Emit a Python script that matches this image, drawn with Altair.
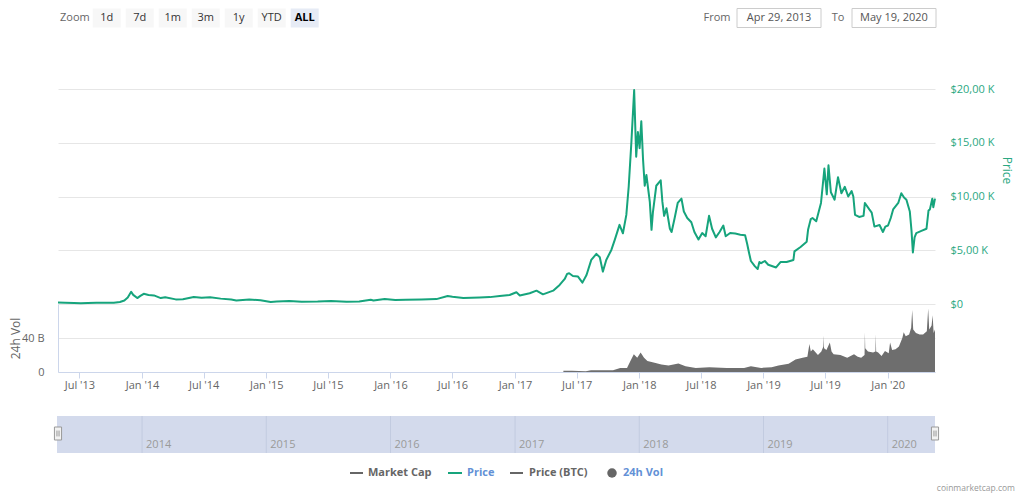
import altair as alt
import pandas as pd

# ------------------------------------------------------------------ data
price_dates = [
    "2013-04-29", "2013-05-20", "2013-06-15", "2013-07-05", "2013-07-25", "2013-08-20", "2013-09-20", "2013-10-10",
    "2013-10-28", "2013-11-10", "2013-11-20", "2013-11-30", "2013-12-06", "2013-12-18", "2013-12-27",
    "2014-01-06", "2014-01-20", "2014-02-05", "2014-02-25", "2014-03-10", "2014-04-10", "2014-05-01", "2014-06-02",
    "2014-06-25", "2014-07-20", "2014-08-20", "2014-09-20", "2014-10-05", "2014-11-12", "2014-12-15",
    "2015-01-14", "2015-02-01", "2015-03-10", "2015-04-15", "2015-06-01", "2015-07-10", "2015-08-25", "2015-10-01",
    "2015-11-04", "2015-11-12", "2015-12-15",
    "2016-01-15", "2016-02-15", "2016-04-01", "2016-05-15", "2016-06-17", "2016-07-01", "2016-08-02", "2016-09-19",
    "2016-10-19", "2016-11-17", "2016-12-16",
    "2017-01-05", "2017-01-15", "2017-02-13", "2017-03-05", "2017-03-24", "2017-04-23", "2017-05-12", "2017-05-27",
    "2017-06-03", "2017-06-09", "2017-06-20", "2017-07-05", "2017-07-18", "2017-07-30", "2017-08-13", "2017-08-28",
    "2017-09-07", "2017-09-16", "2017-09-26", "2017-10-11", "2017-10-21", "2017-11-04", "2017-11-14", "2017-11-24",
    "2017-12-01", "2017-12-09", "2017-12-17", "2017-12-23", "2017-12-28",
    "2018-01-02", "2018-01-07", "2018-01-12", "2018-01-17", "2018-01-22", "2018-01-26", "2018-02-01", "2018-02-06",
    "2018-02-10", "2018-02-20", "2018-03-05", "2018-03-10", "2018-03-15", "2018-03-22", "2018-04-01", "2018-04-06",
    "2018-04-15", "2018-04-24", "2018-05-05", "2018-05-12", "2018-05-22", "2018-06-03", "2018-06-12", "2018-06-24",
    "2018-07-05", "2018-07-15", "2018-07-25", "2018-08-03", "2018-08-14", "2018-08-25", "2018-09-05", "2018-09-12",
    "2018-09-25", "2018-10-10", "2018-10-25", "2018-11-08", "2018-11-14", "2018-11-20", "2018-11-25", "2018-12-07",
    "2018-12-15", "2018-12-20", "2018-12-25",
    "2019-01-05", "2019-01-15", "2019-02-07", "2019-02-20", "2019-03-10", "2019-03-30", "2019-04-02", "2019-04-20",
    "2019-05-08", "2019-05-12", "2019-05-20", "2019-05-25", "2019-06-05", "2019-06-19", "2019-06-24", "2019-06-29",
    "2019-07-06", "2019-07-11", "2019-07-18", "2019-07-29", "2019-08-08", "2019-08-18", "2019-08-28", "2019-09-07",
    "2019-09-17", "2019-09-22", "2019-09-27", "2019-10-09", "2019-10-22", "2019-10-26", "2019-11-08", "2019-11-15",
    "2019-11-23", "2019-12-08", "2019-12-18", "2019-12-25",
    "2020-01-02", "2020-01-10", "2020-01-17", "2020-02-01", "2020-02-10", "2020-02-18", "2020-02-25", "2020-03-06",
    "2020-03-11", "2020-03-15", "2020-03-20", "2020-03-25", "2020-04-09", "2020-04-24", "2020-04-30", "2020-05-04",
    "2020-05-11", "2020-05-14", "2020-05-19",
]
price_usd = [
    135, 122, 100, 75, 95, 115, 125, 125,
    190, 330, 600, 1130, 850, 550, 750,
    950, 840, 800, 550, 630, 430, 450, 660,
    590, 620, 500, 410, 330, 420, 340,
    180, 230, 290, 220, 230, 290, 215, 240,
    400, 330, 455,
    380, 400, 420, 455, 750, 680, 560, 610,
    640, 745, 840,
    1090, 800, 1000, 1240, 900, 1240, 1770, 2330,
    2800, 2860, 2610, 2550, 1990, 2700, 4100, 4660,
    4350, 3010, 4100, 5030, 5960, 7360, 6580, 8290,
    10930, 15130, 19900, 13700, 16000,
    14500, 17000, 13500, 11000, 12000, 11000, 9500, 6900,
    8500, 11000, 11500, 9500, 8200, 8900, 7000, 6700,
    8000, 9400, 9800, 8600, 8000, 7600, 6700, 6000,
    6600, 6300, 8200, 7000, 6200, 6700, 7300, 6300,
    6600, 6550, 6450, 6400, 5600, 4700, 4000, 3500,
    3250, 3900, 3800,
    4000, 3650, 3400, 3900, 3900, 4100, 4900, 5300,
    5800, 6900, 7900, 8000, 7700, 9400, 11000, 12600,
    10200, 12900, 10400, 9700, 11800, 10300, 10900, 10000,
    10500, 10000, 8300, 8100, 8200, 9400, 8800, 8500,
    7200, 7350, 6700, 7200,
    7300, 8000, 8800, 9400, 10300, 9900, 9700, 8600,
    6800, 4800, 6200, 6600, 6800, 7000, 8700, 8800,
    9800, 9000, 9800,
]

vol_dates = [
    "2017-05-23", "2017-06-17", "2017-07-28", "2017-08-12", "2017-09-26", "2017-10-16", "2017-11-06", "2017-11-26",
    "2017-12-06", "2017-12-16", "2017-12-26", "2018-01-05", "2018-01-15", "2018-01-25", "2018-02-15", "2018-03-07",
    "2018-03-28", "2018-04-26", "2018-05-17", "2018-06-16", "2018-07-26", "2018-09-15", "2018-11-05", "2018-11-25",
    "2018-12-25", "2019-01-25", "2019-02-14", "2019-03-16", "2019-04-05", "2019-04-26", "2019-05-10", "2019-05-16",
    "2019-05-20", "2019-05-26", "2019-06-10", "2019-06-20", "2019-06-26", "2019-06-27", "2019-06-28", "2019-07-05",
    "2019-07-15", "2019-07-20", "2019-07-26", "2019-08-15", "2019-09-04", "2019-09-24", "2019-10-05", "2019-10-15",
    "2019-10-25", "2019-10-26", "2019-10-27", "2019-11-04", "2019-11-19", "2019-11-26", "2019-11-27", "2019-11-28",
    "2019-12-04", "2019-12-14", "2019-12-24", "2020-01-04", "2020-01-08", "2020-01-14", "2020-01-24", "2020-02-03",
    "2020-02-13", "2020-02-17", "2020-02-23", "2020-03-04", "2020-03-10", "2020-03-13", "2020-03-16", "2020-03-24",
    "2020-04-04", "2020-04-14", "2020-04-25", "2020-04-29", "2020-05-02", "2020-05-09", "2020-05-12", "2020-05-15",
    "2020-05-19",
]
vol_billion = [
    1.6, 1.6, 0.8, 2.0, 2.0, 2.0, 4.8, 4.8,
    12.8, 20.8, 16.8, 22.8, 16.8, 12.8, 10.8, 8.8,
    7.6, 10.0, 6.8, 4.8, 5.6, 4.8, 4.8, 6.8,
    4.8, 5.6, 7.6, 9.6, 14.8, 16.8, 18.0, 32.8,
    24.0, 26.8, 20.0, 24.0, 30.0, 42.8, 28.0, 26.0,
    34.8, 24.0, 20.8, 20.0, 16.8, 20.8, 18.0, 16.8,
    20.0, 46.8, 28.0, 24.0, 22.8, 24.0, 44.8, 24.0,
    22.8, 18.8, 24.8, 22.0, 34.8, 26.0, 26.8, 30.0,
    40.0, 46.8, 42.0, 44.0, 52.0, 72.8, 50.0, 46.0,
    44.0, 44.0, 48.0, 74.8, 50.0, 54.8, 66.8, 46.0,
    50.0,
]

range_start = "2013-04-29"
range_end = "2020-05-19"
x_tick_dates = ["2013-07-01", "2014-01-01", "2014-07-01", "2015-01-01", "2015-07-01", "2016-01-01", "2016-07-01",
                "2017-01-01", "2017-07-01", "2018-01-01", "2018-07-01", "2019-01-01", "2019-07-01", "2020-01-01"]
nav_year_dates = ["2014-01-01", "2015-01-01", "2016-01-01", "2017-01-01", "2018-01-01", "2019-01-01", "2020-01-01"]
nav_year_labels = ["2014", "2015", "2016", "2017", "2018", "2019", "2020"]
price_ticks = [0, 5000, 10000, 15000, 20000]
vol_ticks = [0, 40]
zoom_buttons = ["1d", "7d", "1m", "3m", "1y", "YTD", "ALL"]
selected_button = "ALL"
legend_labels = ["Market Cap", "Price", "Price (BTC)", "24h Vol"]
from_text = "Apr 29, 2013"
to_text = "May 19, 2020"
credit_text = "coinmarketcap.com"

# ------------------------------------------------------------------ style / layout
FONT = "Open Sans"
GREEN = "#16a47c"
GREEN_TXT = "#2ba882"
TXT = "#666666"
AXIS_LINE = "#ccd6eb"
GRID = "#e6e6e6"
VOL = "#6e6e6e"
NAV_FILL = "#d3daec"
NAV_LINE = "#c2cbe0"
BLUE_TXT = "#6391d6"

W, H = 877, 364
PRICE_RANGE = [215, 0]
VOL_RANGE = [283, 215]
TOP_Y0, TOP_Y1, TOP_YC = -80.5, -61.5, -71


def utc(s):
    y, m, d = (int(p) for p in s.split("-"))
    return alt.DateTime(year=y, month=m, date=d, utc=True)


x_scale = alt.Scale(type="utc", domain=[utc(range_start), utc(range_end)])
one = pd.DataFrame({"k": [0]})

price_df = pd.DataFrame({"date": price_dates, "usd": price_usd})
vol_df = pd.DataFrame({"date": vol_dates, "vol": vol_billion})
nav_df = pd.DataFrame({"date": nav_year_dates, "label": nav_year_labels})

# volume panel + shared x axis
vol_area = alt.Chart(vol_df).mark_area(color=VOL, opacity=1).encode(
    x=alt.X("date:T", scale=x_scale, axis=alt.Axis(
        orient="bottom", offset=-(H - VOL_RANGE[0]), values=[utc(d) for d in x_tick_dates],
        labelExpr="utcFormat(datum.value, \"%b '%y\")", labelOverlap=False, labelFlush=False,
        grid=False, domainColor=AXIS_LINE, tickColor=AXIS_LINE, tickSize=6, labelPadding=1,
        labelColor=TXT, labelFont=FONT, labelFontSize=11, title=None)),
    y=alt.Y("vol:Q", scale=alt.Scale(domain=[0, 80], range=VOL_RANGE, nice=False), axis=alt.Axis(
        orient="left", values=vol_ticks,
        labelExpr="datum.value == 0 ? '0' : datum.value + ' B'",
        grid=True, gridColor=GRID, domain=True, domainColor=AXIS_LINE, ticks=False, tickSize=0,
        labelPadding=14, labelColor=TXT, labelFont=FONT, labelFontSize=11,
        title="24h Vol", titleFont=FONT, titleFontSize=12, titleFontWeight="normal", titleColor=TXT,
        titleAngle=270, titleX=-43, titleY=249, titleAlign="center", titleBaseline="middle")),
)

price_line = alt.Chart(price_df).mark_line(color=GREEN, strokeWidth=2, strokeJoin="round").encode(
    x=alt.X("date:T", scale=x_scale, axis=None),
    y=alt.Y("usd:Q", scale=alt.Scale(domain=[0, 20000], range=PRICE_RANGE, nice=False), axis=alt.Axis(
        orient="right", values=price_ticks,
        labelExpr="datum.value == 0 ? '$0' : '$' + replace(format(datum.value / 1000, '.2f'), '.', ',') + ' K'",
        grid=True, gridColor=GRID, domain=False, ticks=False, tickSize=0, labelPadding=15,
        labelColor=GREEN_TXT, labelFont=FONT, labelFontSize=11,
        title="Price", titleFont=FONT, titleFontSize=12, titleFontWeight="normal", titleColor=GREEN_TXT,
        titleAngle=90, titleX=71, titleY=81, titleAlign="center", titleBaseline="middle")),
)

# navigator
nav_band = alt.Chart(one).mark_rect(color=NAV_FILL).encode(
    x=alt.value(-1), x2=alt.value(W), y=alt.value(327), y2=alt.value(364))
nav_lines = alt.Chart(nav_df).mark_rule(color=NAV_LINE, strokeWidth=1).encode(
    x=alt.X("date:T", scale=x_scale, axis=None), y=alt.value(327), y2=alt.value(364))
nav_text = alt.Chart(nav_df).mark_text(align="left", baseline="alphabetic", dx=4, font=FONT, fontSize=11,
                                       color="#9a9a9a").encode(
    x=alt.X("date:T", scale=x_scale, axis=None), y=alt.value(359), text="label:N")
HANDLE = "M-0.55,-1H0.55V1H-0.55Z M-0.16,-0.45V0.45 M0.16,-0.45V0.45"
handles = [
    alt.Chart(one).mark_point(shape=HANDLE, size=169, filled=True, fill="#f2f2f2", stroke="#999999",
                              strokeWidth=1, opacity=1).encode(x=alt.value(hx), y=alt.value(344.5))
    for hx in (0, W)
]

# top controls
btn_df = pd.DataFrame({"label": zoom_buttons})
btn_df["x0"] = [34.7 + 33 * i for i in range(len(zoom_buttons))]
btn_df["x1"] = btn_df["x0"] + 28
btn_df["xc"] = btn_df["x0"] + 14
btn_rect = alt.Chart(btn_df).mark_rect().encode(
    x=alt.X("x0:Q", scale=None), x2="x1:Q", y=alt.value(TOP_Y0), y2=alt.value(TOP_Y1),
    color=alt.condition(alt.datum.label == selected_button, alt.value("#e6ebf5"), alt.value("#f7f7f7")))
btn_text = alt.Chart(btn_df).mark_text(font=FONT, fontSize=11, color="#333333", baseline="middle").encode(
    x=alt.X("xc:Q", scale=None), y=alt.value(TOP_YC), text="label:N"
).transform_filter(alt.datum.label != selected_button)
btn_sel = alt.Chart(btn_df).mark_text(font=FONT, fontSize=11, fontWeight="bold", color="#000000",
                                      baseline="middle").encode(
    x=alt.X("xc:Q", scale=None), y=alt.value(TOP_YC), text="label:N"
).transform_filter(alt.datum.label == selected_button)


def label(txt, x, y, align="center", size=11, color=TXT, weight="normal", baseline="middle"):
    return alt.Chart(pd.DataFrame({"t": [txt]})).mark_text(
        font=FONT, fontSize=size, color=color, fontWeight=weight, align=align, baseline=baseline
    ).encode(x=alt.value(x), y=alt.value(y), text="t:N")


def box(x0, x1):
    return alt.Chart(one).mark_rect(fill="#ffffff", stroke="#cccccc", strokeWidth=1).encode(
        x=alt.value(x0), x2=alt.value(x1), y=alt.value(TOP_Y0), y2=alt.value(TOP_Y1))


top = [
    label("Zoom", 2, TOP_YC, align="left"),
    btn_rect, btn_text, btn_sel,
    label("From", 659, TOP_YC),
    box(679, 763), label(from_text, 721, TOP_YC, color="#555555"),
    label("To", 780, TOP_YC),
    box(794, 878), label(to_text, 836, TOP_YC, color="#555555"),
]

# legend
LEG_Y = 384
legend = [
    alt.Chart(one).mark_rule(color="#666666", strokeWidth=2).encode(
        x=alt.value(292), x2=alt.value(305), y=alt.value(LEG_Y)),
    label(legend_labels[0], 310, LEG_Y, align="left", color="#666666", weight="bold"),
    alt.Chart(one).mark_rule(color=GREEN, strokeWidth=2).encode(
        x=alt.value(390), x2=alt.value(404), y=alt.value(LEG_Y)),
    label(legend_labels[1], 409, LEG_Y, align="left", color=BLUE_TXT, weight="bold"),
    alt.Chart(one).mark_rule(color="#666666", strokeWidth=2).encode(
        x=alt.value(452), x2=alt.value(465), y=alt.value(LEG_Y)),
    label(legend_labels[2], 471, LEG_Y, align="left", color="#666666", weight="bold"),
    alt.Chart(one).mark_point(filled=True, size=90, color="#666666", opacity=1).encode(
        x=alt.value(554), y=alt.value(LEG_Y)),
    label(legend_labels[3], 565, LEG_Y, align="left", color=BLUE_TXT, weight="bold"),
]

credit = label(credit_text, 957, 402, align="right", size=8.5, color="#999999", baseline="alphabetic")

chart = alt.layer(
    vol_area, price_line, nav_band, nav_lines, nav_text, *handles, *top, *legend, credit
).resolve_scale(x="independent", y="independent").properties(
    width=W, height=H,
    autosize=alt.AutoSizeParams(type="none"),
    padding={"left": 50, "top": 81, "right": 81, "bottom": 42},
).configure_view(strokeWidth=0)

chart.save("out.html", embed_options={"renderer": "svg", "actions": False})
